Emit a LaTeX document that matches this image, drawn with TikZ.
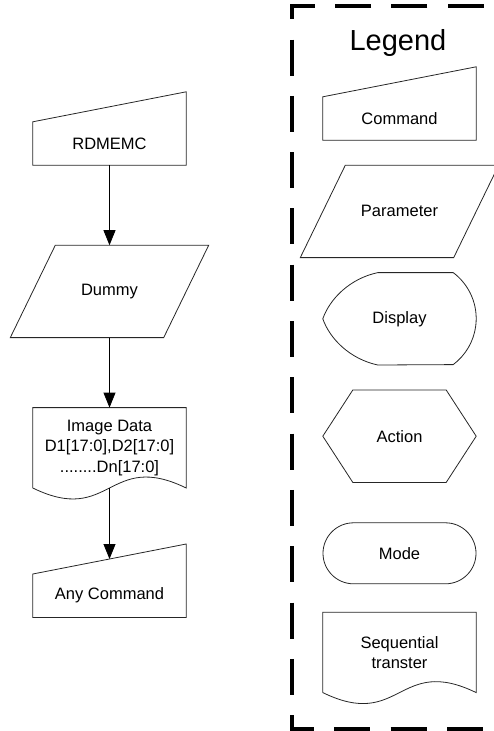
\documentclass[tikz,border=0pt]{standalone}
\usepackage{fontspec}
\setmainfont{Liberation Sans}
\usetikzlibrary{arrows.meta,positioning}
\tikzset{
  shp/.style={rectangle, minimum width=153pt, inner sep=0pt, align=center,
              font=\fontsize{16.5}{20.5}\selectfont},
  cmdbox/.style={shp, minimum height=43pt},
  parbox/.style={shp, minimum height=92pt},
  docbox/.style={shp, minimum height=80pt},
  modebox/.style={shp, outl, rounded corners=30.5pt, minimum height=61pt},
  outl/.style={draw=black!85, line width=0.8pt},
  ar/.style={-{Triangle[length=15pt,width=12pt]}, line width=0.8pt},
}

\begin{document}
\begin{tikzpicture}[x=1pt,y=-1pt,
  legendbox/.style={draw=black, line width=3.5pt, dash pattern=on 36pt off 20.3pt, dash phase=20pt},
  ttl/.style={font=\fontsize{29}{34}\selectfont, inner sep=0pt},
]
\useasboundingbox (0,0) rectangle (494,731);

% ===================== FLOW: read memory sequence =====================
\node[cmdbox] (rdmemc) at (109.5,143.5) {RDMEMC};
\draw[outl] (rdmemc.south west) -- (rdmemc.south east) -- ([yshift=30pt]rdmemc.north east)
  -- (rdmemc.north west) -- cycle;

\node[parbox, below=80pt of rdmemc] (dummy) {Dummy};
\draw[outl] ([xshift=22.5pt]dummy.north west) -- ([xshift=22.5pt]dummy.north east)
  -- ([xshift=-22.5pt]dummy.south east) -- ([xshift=-22.5pt]dummy.south west) -- cycle;

\node[docbox, below=70pt of dummy] (imgdata) {Image Data\\D1[17:0],D2[17:0]\\........Dn[17:0]};
\draw[outl] (imgdata.south west) -- (imgdata.north west) -- (imgdata.north east) -- (imgdata.south east)
  .. controls ([xshift=-78pt,yshift=38pt]imgdata.south east) and ([xshift=78pt,yshift=-38pt]imgdata.south west)
  .. (imgdata.south west);

\node[cmdbox, below=86pt of imgdata] (anycmd) {Any Command};
\draw[outl] (anycmd.south west) -- (anycmd.south east) -- ([yshift=30pt]anycmd.north east)
  -- (anycmd.north west) -- cycle;

\draw[ar] (rdmemc.south) -- (dummy.north);
\draw[ar] (dummy.south) -- (imgdata.north);
\draw[ar] (imgdata.south) -- ([yshift=15pt]anycmd.north);

% ===================== LEGEND =====================
\draw[legendbox] (520,6) -- (292,6) -- (292,729) -- (520,729);
\node[ttl] (legend) at (398,43) {Legend};

\node[cmdbox] (lcmd) at (399.5,118.5) {Command};
\draw[outl] (lcmd.south west) -- (lcmd.south east) -- ([yshift=30pt]lcmd.north east)
  -- (lcmd.north west) -- cycle;

\node[parbox, below=25pt of lcmd] (lpar) {Parameter};
\draw[outl] ([xshift=22.5pt]lpar.north west) -- ([xshift=22.5pt]lpar.north east)
  -- ([xshift=-22.5pt]lpar.south east) -- ([xshift=-22.5pt]lpar.south west) -- cycle;

\node[parbox, below=15pt of lpar] (ldsp) {Display};
\draw[outl] ([xshift=55pt]ldsp.north west) -- ([xshift=-23pt]ldsp.north east)
  arc[start angle=53.13, end angle=-53.13, radius=57.5pt]
  -- ([xshift=55pt]ldsp.south west) .. controls +(-28,-6) and +(7,20) .. (ldsp.west)
  .. controls +(7,-20) and +(-28,6) .. ([xshift=55pt]ldsp.north west) -- cycle;

\node[parbox, below=25pt of ldsp] (lact) {Action};
\draw[outl] ([xshift=30pt]lact.north west) -- ([xshift=-30pt]lact.north east) -- (lact.east)
  -- ([xshift=-30pt]lact.south east) -- ([xshift=30pt]lact.south west) -- (lact.west) -- cycle;

\node[modebox, below=40pt of lact] (lmode) {Mode};

\node[docbox, below=28pt of lmode] (lseq) {Sequential\\transter};
\draw[outl] (lseq.south west) -- (lseq.north west) -- (lseq.north east) -- (lseq.south east)
  .. controls ([xshift=-78pt,yshift=38pt]lseq.south east) and ([xshift=78pt,yshift=-38pt]lseq.south west)
  .. (lseq.south west);

\end{tikzpicture}
\end{document}
